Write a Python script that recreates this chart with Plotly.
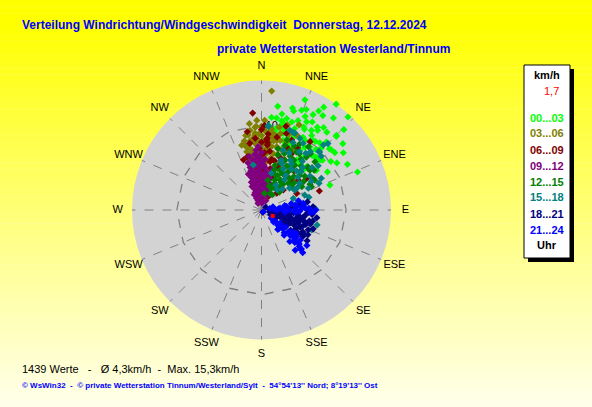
import plotly.graph_objects as go

# ---------------- data (direction in degrees from N clockwise, speed in km/h) -------------
dir_00_03 = [35.2, 42.9, 21.5, 8.9, 16.9, 31.2, 28.4, 21.9, 45.7, 68.4, 45.5, 50.8, 49.2, 70.0,
             55.0, 50.8, 41.0, 43.7, 32.1, 34.0, 27.1, 15.4, 22.2, 12.4, 0.0, 45.0, 37.5, 29.7,
             22.5, 23.1, 32.7, 344.3, 46.2, 35.1, 6.2, 15.9, 6.5, 25.4, 17.1, 22.2, 31.9, 42.6,
             40.5, 25.2, 9.6, 13.6, 54.2, 49.5, 48.0, 45.1, 34.5, 36.4, 46.3, 9.3, 12.7, 14.7,
             35.8, 35.2, 20.0, 28.0, 38.0, 42.0, 30.0, 18.0, 12.0, 25.0, 40.0, 55.0, 60.0, 33.0,
             5.0, 14.0, 16.0, 19.0, 24.0, 27.0, 29.0, 34.0, 37.0, 39.0, 44.0, 47.0, 52.0, 58.0,
             62.0, 24.0, 30.0, 38.0, 10.0, 20.0]
spd_00_03 = [15.3, 15.0, 14.0, 12.4, 12.6, 14.2, 12.8, 12.7, 13.6, 12.2, 12.4, 12.4, 10.9, 8.6,
             11.8, 9.3, 10.5, 11.1, 11.1, 11.8, 11.7, 11.2, 11.4, 10.1, 8.8, 8.9, 9.4, 9.9,
             9.8, 8.5, 8.4, 4.7, 7.4, 7.2, 11.0, 9.4, 7.1, 7.8, 8.6, 10.4, 9.7, 8.8,
             7.0, 6.5, 9.5, 9.3, 8.0, 9.1, 10.8, 12.5, 9.0, 7.3, 6.8, 11.0, 10.8, 10.0,
             10.2, 11.5, 9.0, 10.8, 10.3, 9.6, 12.0, 12.3, 11.6, 12.2, 12.0, 10.0, 9.0, 13.3,
             10.0, 10.6, 10.0, 11.0, 9.5, 11.0, 8.0, 10.6, 12.2, 8.2, 10.2, 9.0, 11.0, 10.5,
             11.5, 13.0, 13.5, 13.8, 9.8, 8.0]

dir_03_06 = [355.5, 355.2, 0.1, 0.0, 348.2, 345.8, 354.4, 1.5, 7.1, 6.3, 347.8, 354.5, 2.2, 353.0,
             5.2, 11.8, 13.5, 8.7, 0.0, 5.0, 351.5, 352.0, 4.9, 348.5, 356.3, 23.8, 10.2, 20.2,
             12.3, 0.0, 8.8, 345.8, 9.6, 352.2, 351.8, 346.8, 350.7, 0.0, 5.1, 355.0, 350.2,
             22.0, 23.9, 350.0, 357.0, 3.0, 5.0, 8.0, 0.0, 355.0, 358.0, 352.0, 3.0, 6.0, 10.0,
             15.0, 18.0, 352.0, 357.0, 346.0, 2.0, 12.0, 25.0, 343.0, 348.0, 351.0, 354.0, 358.0,
             1.0, 4.0, 7.0, 9.0, 14.0, 16.0, 20.0, 27.0, 347.0, 0.0, 10.0, 17.0]
spd_03_06 = [9.8, 9.1, 9.8, 8.8, 7.6, 7.1, 7.9, 7.8, 8.1, 7.3, 6.4, 5.9, 5.5, 4.7,
             6.7, 6.8, 7.7, 9.1, 1.2, 2.4, 5.2, 8.3, 14.1, 7.8, 9.9, 11.0, 9.0, 8.6,
             8.4, 1.6, 1.4, 7.9, 6.0, 2.8, 9.5, 7.6, 8.3, 9.9, 9.1, 8.9, 6.8,
             7.4, 5.4, 9.0, 8.3, 9.3, 8.6, 8.8, 7.2, 7.0, 6.4, 6.7, 6.5, 5.8, 6.2,
             8.5, 7.5, 10.3, 10.6, 8.4, 10.6, 10.0, 9.8, 8.0, 9.0, 7.2, 8.6, 9.0,
             8.2, 7.2, 9.6, 7.6, 9.3, 6.8, 9.5, 8.0, 6.0, 6.0, 8.3, 10.5]

dir_06_09 = [354.8, 349.7, 340.3, 4.6, 5.1, 0.0, 11.4, 2.6, 351.8, 19.5, 47.5, 42.3, 27.0, 71.8,
             35.4, 16.3, 23.3, 50.8, 4.2, 19.1, 13.2, 353.0, 352.6, 32.5, 64.6, 10.0, 5.0, 5.0,
             357.0, 8.0, 30.0, 40.0, 0.0, 2.0, 355.0, 358.0, 8.0, 15.0, 22.0, 28.0, 12.0, 345.0,
             18.0, 25.0, 30.0, 35.0, 38.0, 45.0, 55.0, 12.0, 20.0, 350.0, 3.0, 0.0]
spd_06_09 = [11.5, 9.4, 6.3, 8.5, 7.7, 6.5, 6.1, 4.7, 4.0, 4.2, 3.5, 2.7, 1.8, 7.2,
             9.9, 10.3, 9.0, 5.6, 8.3, 6.6, 4.0, 4.7, 5.9, 7.0, 4.6, 5.8, 8.0, 9.0,
             3.2, 3.0, 5.0, 6.0, 9.5, 10.0, 8.5, 7.3, 7.0, 6.0, 8.0, 7.5, 8.8, 6.5,
             9.5, 6.5, 8.5, 6.2, 5.0, 5.0, 6.5, 5.0, 5.5, 8.0, 6.8, 8.0]

dir_09_12 = [349.3, 346.3, 343.3, 339.9, 333.4, 356.0, 356.4, 355.2, 355.7, 2.4, 3.2, 5.7, 10.2,
             23.4, 354.8, 347.2, 355.0, 14.7, 0.8, 351.0, 350.0, 345.0, 352.0, 348.0, 0.0, 0.0,
             358.0, 4.0, 8.0, 12.0, 15.0, 340.0, 344.0, 2.0, 20.0, 357.0, 342.0,
             340.0, 340.0, 340.0, 345.0, 345.0, 345.0, 345.0, 350.0, 350.0, 350.0, 350.0, 350.0,
             353.0, 355.0, 355.0, 355.0, 358.0, 358.0, 358.0, 358.0, 0.0, 0.0, 0.0, 2.0, 3.0,
             5.0, 5.0, 7.0, 10.0, 12.0, 18.0, 25.0, 335.0, 338.0, 337.0, 343.0, 348.0, 352.0,
             356.0, 1.0, 4.0, 7.0, 9.0, 15.0, 18.0, 347.0, 0.0, 353.0]
spd_09_12 = [5.4, 4.2, 3.1, 1.9, 0.9, 5.9, 4.7, 3.5, 2.4, 1.4, 5.3, 4.1, 3.0,
             1.9, 7.1, 5.2, 6.5, 4.9, 4.1, 4.2, 6.0, 4.8, 3.0, 2.5, 3.0, 2.0,
             6.2, 6.0, 4.5, 3.5, 2.5, 3.5, 5.8, 0.8, 3.2, 7.5, 2.6,
             1.2, 2.2, 4.5, 1.5, 2.0, 3.6, 5.2, 1.0, 1.8, 3.5, 4.5, 5.2,
             6.6, 1.2, 5.3, 6.0, 1.8, 3.3, 4.4, 5.0, 1.0, 4.0, 5.6, 2.8, 3.8,
             2.2, 5.0, 3.2, 4.0, 2.5, 2.2, 1.2, 2.0, 3.0, 1.5, 4.0, 4.0, 5.5,
             2.8, 3.4, 2.0, 4.5, 1.8, 3.8, 4.5, 6.5, 6.8, 1.5]

dir_12_15 = [24.2, 24.8, 25.2, 25.4, 36.7, 47.7, 48.7, 42.8, 35.0, 33.9, 16.7, 31.1, 40.3, 50.5,
             36.5, 33.4, 58.5, 60.7, 48.3, 20.0, 12.2, 16.7, 19.9, 30.0, 40.0, 55.0, 45.0, 28.0,
             38.0, 20.0, 30.0, 15.0, 10.0, 35.0, 42.0, 50.0, 25.0, 32.0, 38.0, 45.0, 52.0, 22.0,
             27.0, 42.0, 48.0, 33.0, 18.0, 28.0, 60.0, 65.0, 18.0, 22.0, 26.0, 30.0, 34.0, 38.0,
             41.0, 44.0, 47.0, 53.0, 56.0, 62.0, 20.0, 30.0, 24.0, 35.0, 45.0, 55.0]
spd_12_15 = [3.9, 5.2, 6.5, 7.8, 6.6, 6.1, 4.5, 3.2, 2.2, 5.0, 6.8, 8.0, 8.2, 7.4,
             9.3, 6.1, 7.1, 7.2, 7.4, 2.9, 3.6, 5.5, 8.1, 3.0, 4.0, 5.5, 6.5, 7.2,
             7.6, 4.5, 6.0, 7.5, 2.0, 5.5, 5.0, 5.0, 4.5, 4.2, 3.5, 4.5, 6.5, 6.0,
             8.5, 7.0, 8.5, 7.0, 3.0, 2.2, 5.5, 6.5, 5.0, 7.2, 3.5, 5.0, 8.0, 6.0,
             8.8, 5.5, 7.5, 7.8, 6.0, 6.5, 8.8, 9.0, 2.8, 4.0, 3.0, 4.5]

dir_15_18 = [4.6, 23.4, 44.3, 43.6, 111.7, 89.3, 45.1, 65.1, 88.2, 349.7, 4.6, 32.9, 54.9, 35.0,
             59.2, 21.3, 30.1, 71.0, 28.2, 19.6, 45.0, 22.1, 40.0, 50.0, 26.0, 38.0, 60.0, 15.0,
             45.0, 33.0, 42.0, 48.0, 55.0, 65.0, 30.0, 25.0, 37.0, 52.0, 70.0, 80.0, 20.0, 24.0,
             28.0, 32.0, 36.0, 40.0, 44.0, 48.0, 52.0, 58.0, 62.0, 38.0, 46.0, 75.0, 90.0, 105.0]
spd_15_18 = [9.9, 9.9, 9.7, 10.6, 6.4, 6.4, 9.7, 6.1, 6.3, 5.4, 10.0, 6.5, 5.5, 5.0,
             4.6, 6.3, 3.4, 5.4, 9.6, 10.0, 11.1, 9.9, 7.5, 7.8, 7.5, 8.5, 6.8, 4.5,
             3.5, 8.2, 6.2, 5.8, 7.0, 7.5, 6.8, 8.8, 4.5, 4.2, 4.0, 4.2, 7.5, 6.0,
             5.5, 9.3, 6.0, 9.0, 7.0, 9.5, 8.5, 5.0, 8.0, 3.0, 6.5, 5.8, 5.5, 6.8]

dir_18_21 = [103.0, 102.0, 103.8, 104.6, 113.7, 117.8, 105.4, 117.8, 90.8, 80.1, 95.4, 90.0, 90.0,
             120.6, 115.0, 119.1, 86.4, 83.2, 93.3, 150.0, 56.0, 118.2, 113.8, 108.0, 110.0, 98.0,
             100.0, 112.0, 95.0, 125.0, 122.0, 85.0, 122.8, 80.0, 100.0, 105.0, 108.0, 113.0,
             118.0, 110.0, 102.0, 97.0, 115.0, 120.0, 105.0, 112.0, 95.0, 99.0, 103.0, 97.0,
             100.0, 104.0, 107.0, 109.0, 111.0, 114.0, 116.0, 119.0, 121.0, 124.0, 106.0, 98.0,
             93.0, 117.0]
spd_18_21 = [1.0, 2.2, 3.5, 4.7, 4.7, 3.5, 5.3, 5.5, 5.7, 4.6, 4.2, 2.2, 1.0,
             1.8, 3.7, 5.6, 6.1, 4.95, 5.5, 0.3, 0.6, 2.9, 2.0, 4.0, 3.0, 3.0,
             5.0, 5.2, 6.0, 4.2, 5.0, 3.5, 5.8, 5.5, 2.0, 2.5, 5.5, 6.0,
             6.2, 6.5, 6.2, 5.2, 4.3, 3.0, 1.5, 1.3, 3.8, 4.5, 5.8, 1.6,
             3.3, 4.2, 3.4, 4.6, 2.4, 5.0, 3.3, 4.6, 5.5, 6.5, 6.0, 6.6,
             2.5, 1.2]

dir_21_24 = [133.0, 74.4, 82.5, 84.6, 83.2, 88.0, 134.8, 125.7, 131.5, 129.0, 131.3, 130.0, 124.0,
             134.3, 135.0, 88.0, 90.0, 134.4, 133.4, 95.0, 92.0, 140.0, 138.0, 128.0, 86.0, 78.0,
             85.0, 88.0, 90.0, 82.0, 87.0, 93.0, 130.0, 128.0, 135.0, 126.0, 132.0, 138.0, 127.0,
             136.0, 140.0, 80.0, 84.0, 79.0, 91.0, 94.0, 81.0, 76.0, 89.0, 92.0, 129.0, 133.0,
             137.0, 125.0, 131.0, 134.0, 128.0]
spd_21_24 = [0.3, 1.4, 3.0, 4.2, 5.0, 5.6, 2.0, 2.7, 3.4, 4.1, 4.5, 4.9, 4.9,
             5.5, 6.5, 5.2, 6.4, 6.6, 5.4, 2.8, 4.5, 3.0, 4.0, 5.8, 2.0, 3.6,
             1.5, 2.5, 3.3, 4.0, 4.8, 5.8, 1.5, 3.0, 3.8, 4.4, 6.0, 5.0, 5.2,
             7.0, 6.2, 1.0, 2.2, 2.8, 1.8, 4.0, 5.0, 4.5, 4.0, 6.2, 2.2, 2.6,
             3.0, 3.5, 5.2, 6.2, 6.8]

mean_dir = [118.0]
mean_spd = [1.5]
mean_label = "1,7"

time_bins = ["00...03", "03...06", "06...09", "09...12", "12...15", "15...18", "18...21", "21...24"]
bin_colors = ["#00FF00", "#808000", "#800000", "#800080", "#008000", "#008080", "#000080", "#0000FF"]
bin_dirs = [dir_00_03, dir_03_06, dir_06_09, dir_09_12, dir_12_15, dir_15_18, dir_18_21, dir_21_24]
bin_spds = [spd_00_03, spd_03_06, spd_06_09, spd_09_12, spd_12_15, spd_15_18, spd_18_21, spd_21_24]

compass = ["N", "NNE", "NE", "ENE", "E", "ESE", "SE", "SSE",
           "S", "SSW", "SW", "WSW", "W", "WNW", "NW", "NNW"]
compass_deg = [i * 22.5 for i in range(16)]
compass_label_r = 17.0
ring_value = 10
ring_label_dir = 7.0
r_max = 15.3

title1 = "Verteilung Windrichtung/Windgeschwindigkeit  Donnerstag, 12.12.2024"
title2 = "private Wetterstation Westerland/Tinnum"
stats = "1439 Werte   -   \u00d8 4,3km/h  -  Max. 15,3km/h"
footer = "\u00a9 WsWin32  -  \u00a9 private Wetterstation Tinnum/Westerland/Sylt  -  54\u00b054'13'' Nord; 8\u00b019'13'' Ost"

# ---------------- figure ----------------
W, H = 592, 407
font = "Liberation Sans, Arial, sans-serif"
fig = go.Figure()

# polygon ring (10 km/h)
fig.add_trace(go.Scatterpolar(
    theta=compass_deg + [compass_deg[0]], r=[ring_value] * 17, mode="lines",
    line=dict(color="#808080", width=1.3, dash="dash"), hoverinfo="skip", showlegend=False))
# ring label
fig.add_trace(go.Scatterpolar(
    theta=[ring_label_dir], r=[ring_value], mode="text", text=[str(ring_value)],
    textfont=dict(family=font, size=11, color="black"), hoverinfo="skip", showlegend=False))

for name, col, d, s in zip(time_bins, bin_colors, bin_dirs, bin_spds):
    fig.add_trace(go.Scatterpolar(
        theta=d, r=s, mode="markers", name=name,
        marker=dict(symbol="diamond", size=5.5, color=col, line=dict(width=0)),
        showlegend=False))

fig.add_trace(go.Scatterpolar(
    theta=mean_dir, r=mean_spd, mode="markers",
    marker=dict(symbol="square", size=4, color="#FF0000", line=dict(width=0)),
    showlegend=False))

# compass labels on a larger, transparent polar with the same scale
fig.add_trace(go.Scatterpolar(
    theta=compass_deg, r=[compass_label_r] * len(compass), mode="text", text=compass,
    textfont=dict(family=font, size=11, color="black"), subplot="polar2",
    hoverinfo="skip", showlegend=False))

# background gradient (yellow -> pale yellow)
shapes = []
n = 60
for i in range(n):
    y0 = H * i / n
    y1 = H * (i + 1) / n
    t = max(0.0, ((y0 + y1) / 2 - 25) / (H - 25))
    b = int(round(235 * t ** 0.95))
    shapes.append(dict(type="rect", xref="paper", yref="paper",
                       x0=0, x1=1, y0=1 - y1 / H, y1=min(1.0, 1 - y0 / H + 0.001),
                       fillcolor=f"rgb(255,255,{b})", line=dict(width=0), layer="below"))

def px(x):
    return x / W

def py(y):
    return 1 - y / H

# legend box with shadow
bx0, bx1, by0, by1 = 524, 570, 65, 258
shapes.append(dict(type="rect", xref="paper", yref="paper",
                   x0=px(bx0 + 4), x1=px(bx1 + 4), y0=py(by1 + 4), y1=py(by0 + 4),
                   fillcolor="black", line=dict(width=0)))
shapes.append(dict(type="rect", xref="paper", yref="paper",
                   x0=px(bx0), x1=px(bx1), y0=py(by1), y1=py(by0),
                   fillcolor="white", line=dict(color="black", width=1)))

ann = []
ann.append(dict(text=f"<b>{title1}</b>", x=px(20), y=py(25), xanchor="left", yanchor="middle",
                font=dict(family=font, size=12, color="#0000FF")))
ann.append(dict(text=f"<b>{title2}</b>", x=px(215), y=py(49), xanchor="left", yanchor="middle",
                font=dict(family=font, size=12, color="#0000FF")))
ann.append(dict(text=stats, x=px(20), y=py(369), xanchor="left", yanchor="middle",
                font=dict(family=font, size=11, color="black")))
ann.append(dict(text=f"<b>{footer}</b>", x=px(20), y=py(385), xanchor="left", yanchor="middle",
                font=dict(family=font, size=8, color="#0000FF")))

cx = (bx0 + bx1) / 2
ann.append(dict(text="<b>km/h</b>", x=px(cx), y=py(75), xanchor="center", yanchor="middle",
                font=dict(family=font, size=11, color="black")))
ann.append(dict(text=mean_label, x=px(cx + 4), y=py(91), xanchor="center", yanchor="middle",
                font=dict(family=font, size=11, color="#FF0000")))
leg_y = [118, 133, 149.5, 166, 182.5, 197, 214, 230]
for name, col, yy in zip(time_bins, bin_colors, leg_y):
    ann.append(dict(text=f"<b>{name}</b>", x=px(cx), y=py(yy), xanchor="center", yanchor="middle",
                    font=dict(family=font, size=11, color=col)))
ann.append(dict(text="<b>Uhr</b>", x=px(cx), y=py(245), xanchor="center", yanchor="middle",
                font=dict(family=font, size=11, color="black")))
for a in ann:
    a.update(xref="paper", yref="paper", showarrow=False)

ccx, ccy, rad = 261.5, 210, 129.5
rad2 = 152.0
hidden_angular = dict(rotation=90, direction="clockwise", showline=False, showgrid=False,
                      showticklabels=False, ticks="")
fig.update_layout(
    width=W, height=H, margin=dict(l=0, r=0, t=0, b=0),
    paper_bgcolor="rgb(255,255,235)",
    shapes=shapes, annotations=ann, showlegend=False,
    polar=dict(
        domain=dict(x=[px(ccx - rad), px(ccx + rad)], y=[py(ccy + rad), py(ccy - rad)]),
        bgcolor="#D3D3D3",
        angularaxis=dict(rotation=90, direction="clockwise", tickmode="array",
                         tickvals=compass_deg, ticktext=compass, ticks="",
                         showline=False, showgrid=True, gridcolor="#808080",
                         griddash="dash", gridwidth=1.3, showticklabels=False),
        radialaxis=dict(range=[0, r_max], showgrid=False, showline=False, ticks="",
                        showticklabels=False),
    ),
    polar2=dict(
        domain=dict(x=[px(ccx - rad2), px(ccx + rad2)], y=[py(ccy + rad2), py(ccy - rad2)]),
        bgcolor="rgba(0,0,0,0)",
        angularaxis=hidden_angular,
        radialaxis=dict(range=[0, r_max * rad2 / rad], showgrid=False, showline=False,
                        ticks="", showticklabels=False),
    ),
)

fig.write_html("out.html", config={"displayModeBar": False},
               post_script="document.body.style.margin='0';document.body.style.overflow='hidden';")
